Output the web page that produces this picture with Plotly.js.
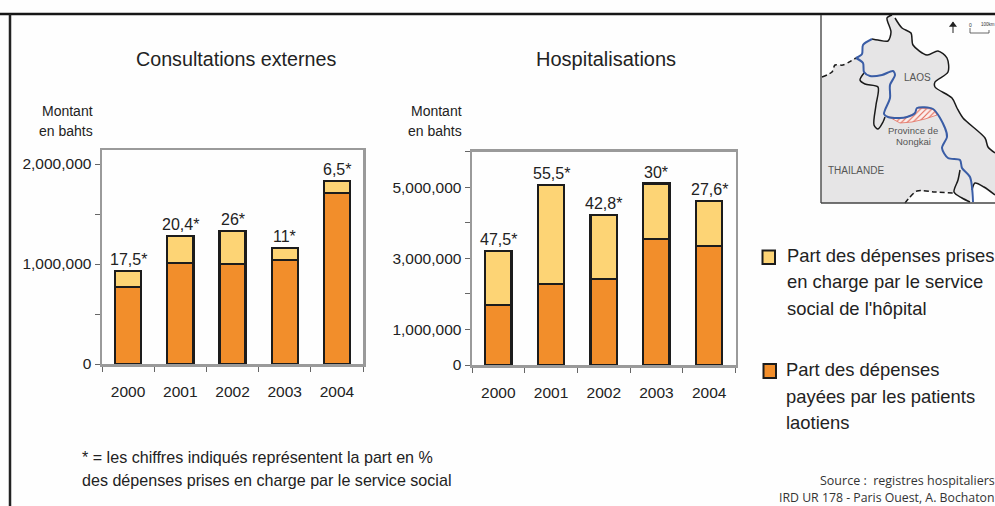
<!DOCTYPE html>
<html lang="fr">
<head>
<meta charset="utf-8">
<script src="https://cdn.plot.ly/plotly-3.0.1.min.js"></script>
<style>html,body{margin:0;padding:0;background:#fefefe;overflow:hidden}#c{width:995px;height:506px}</style>
</head>
<body>
<div id="c"></div>
<script>
// ---- data ----
var years = ['2000','2001','2002','2003','2004'];
var consultPatients = [773000,1010000,1000000,1040000,1710000];
var consultSocial   = [157000,270000,330000,120000,120000];
var consultLabels   = ['17,5*','20,4*','26*','11*','6,5*'];
var hospPatients = [1680000,2270000,2410000,3550000,3340000];
var hospSocial   = [1530000,2780000,1810000,1550000,1260000];
var hospLabels   = ['47,5*','55,5*','42,8*','30*','27,6*'];
var consultTickVals = [0,500000,1000000,1500000,2000000];
var consultTickText = ['0','','1,000,000','','2,000,000'];
var hospTickVals = [0,1000000,2000000,3000000,4000000,5000000,6000000];
var hospTickText = ['0','1,000,000','','3,000,000','','5,000,000',''];
var legendSocial = ["Part des dépenses prises","en charge par le service","social de l'hôpital"];
var legendPatients = ["Part des dépenses","payées par les patients","laotiens"];

// ---- decorative locator map (page pixel coordinates) ----
var landX = [821,823,832,835,843,856,862,863,872,878,888,891,887,892,895,902,911,913,927,938,947,948,935,935,952,957,963,985,988,995,995,975,972,970,954,917,905,821,821];
var landY = [77,77,72,65,65,58,54,45,39,40,41,32,18,15,18,28,33,45,55,51,58,72,82,87,98,108,118,138,147,153,195,183,186,203,192,191,203,203,77];
var borderNorthX = [872,878,888,891,887,892];
var borderNorthY = [39,40,41,32,18,15];
var borderEastX = [895,902,911,913,927,938,947,948,935,935,952,957,963,985,988,995];
var borderEastY = [18,28,33,45,55,51,58,72,82,87,98,108,118,138,147,153];
var borderPocketX = [864,860,865,878,876,874,878,883,885];
var borderPocketY = [73,80,84,87,105,125,129,122,117];
var borderSouthX = [960,958,954,962,970];
var borderSouthY = [170,180,192,198,202];
var borderSEX = [972,975,984,995];
var borderSEY = [190,183,187,195];
var dashWestX = [822,832,835,843,856];
var dashWestY = [77,72,65,65,58];
var dashSouthX = [905,909,917,935,954];
var dashSouthY = [203,198,191,192,193];
var riverNorthX = [856,862,863,872];
var riverNorthY = [58,54,45,39];
var riverMainX = [856,863,864,870,882,893,895,890,890,885,884,888,900,907,915,917,933,945,947,942,948,960,962,970,973];
var riverMainY = [58,63,72,76,75,71,75,85,98,110,114,117,118,117,113,108,109,128,137,148,158,160,168,177,202];
var provinceX = [889,900,907,915,917,933,937,925,912,900,889];
var provinceY = [117,118,117,113,108,109,115,119,122,123,117];
var northArrowX = [953,953];
var northArrowY = [22,33];
var scaleX = [970,970,989,989];
var scaleY = [28,33,33,30];

var ink = '#222222', barLine = '#1c1c1c', frame = '#9a9a9a', axisDark = '#666666';
var social = '#FDD475', patients = '#F28E2B';
var sans = 'Liberation Sans, Arial, sans-serif';

function sum(a,b){return a.map(function(v,i){return v+b[i];});}
function bar(y,color,xa,ya){return {type:'bar',x:years,y:y,xaxis:xa,yaxis:ya,marker:{color:color,line:{color:barLine,width:2.3}},hoverinfo:'skip',showlegend:false};}
function line(x,y,color,w,dash,spline){return {type:'scatter',mode:'lines',x:x,y:y,xaxis:'x3',yaxis:'y3',line:{color:color,width:w,dash:dash||'solid',shape:spline===false?'linear':'spline',smoothing:0.8},hoverinfo:'skip',showlegend:false,cliponaxis:true};}

var traces = [
  bar(consultPatients,patients,'x','y'),
  bar(consultSocial,social,'x','y'),
  bar(hospPatients,patients,'x2','y2'),
  bar(hospSocial,social,'x2','y2'),
  {type:'scatter',mode:'lines',x:landX,y:landY,xaxis:'x3',yaxis:'y3',fill:'toself',fillcolor:'#e6e5e6',line:{width:0,color:'rgba(0,0,0,0)'},hoverinfo:'skip',showlegend:false},
  {type:'scatter',mode:'lines',x:provinceX,y:provinceY,xaxis:'x3',yaxis:'y3',fill:'toself',fillcolor:'#ffffff',fillpattern:{shape:'/',fgcolor:'#e2604f',bgcolor:'#fbeeec',size:4,solidity:0.25},line:{width:0.7,color:'#e2604f'},hoverinfo:'skip',showlegend:false},
  line(borderNorthX,borderNorthY,'#1a1a1a',1.5),
  line(borderEastX,borderEastY,'#1a1a1a',1.5),
  line(borderPocketX,borderPocketY,'#1a1a1a',1.5),
  line(borderSouthX,borderSouthY,'#1a1a1a',1.5),
  line(borderSEX,borderSEY,'#1a1a1a',1.5),
  line(dashWestX,dashWestY,'#1a1a1a',1.5,'5px,3px'),
  line(dashSouthX,dashSouthY,'#1a1a1a',1.5,'5px,3px'),
  line(riverNorthX,riverNorthY,'#3a5da6',2),
  line(riverMainX,riverMainY,'#3a5da6',2),
  line(northArrowX,northArrowY,'#222222',1,'solid',false),
  {type:'scatter',mode:'markers',x:[953],y:[25],xaxis:'x3',yaxis:'y3',marker:{symbol:'triangle-up',size:7,color:'#222222'},hoverinfo:'skip',showlegend:false},
  line(scaleX,scaleY,'#444444',0.8,'solid',false)
];

function note(x,y,t,size,anchor,family,color){return {xref:'x3',yref:'y3',x:x,y:y,text:t,showarrow:false,xanchor:anchor||'left',yanchor:'middle',font:{family:family||sans,size:size,color:color||ink},borderpad:0,borderwidth:0};}
function barLabels(tot,txt,xr,yr){return txt.map(function(t,i){return {xref:xr,yref:yr,x:i,y:tot[i],text:t,showarrow:false,xanchor:'center',yanchor:'bottom',yshift:3,font:{family:sans,size:16,color:ink},borderpad:0,borderwidth:0};});}
var annotations = [
  note(235.5,59,'Consultations externes',19.7,'center'),
  note(605.5,59,'Hospitalisations',20,'center'),
  note(93,111,'Montant',14,'right'),
  note(93,131,'en bahts',14,'right'),
  note(462,111,'Montant',14,'right'),
  note(462,131,'en bahts',14,'right'),
  note(82,457,'* = les chiffres indiqués représentent la part en %',16.1),
  note(82,480,'des dépenses prises en charge par le service social',16.1),
  note(787,255,legendSocial[0],18.4),
  note(787,281,legendSocial[1],18.4),
  note(787,308,legendSocial[2],18.4),
  note(786,369,legendPatients[0],18.4),
  note(786,396,legendPatients[1],18.4),
  note(786,422,legendPatients[2],18.4),
  note(820,480.5,'Source :  registres hospitaliers',12.5,'left','Open Sans, sans-serif','#333333'),
  note(779,497.5,'IRD UR 178 - Paris Ouest, A. Bochaton',12.3,'left','Open Sans, sans-serif','#333333'),
  note(917,77,'LAOS',10,'center',sans,'#555555'),
  note(913,130,'Province de',9.5,'center',sans,'#555555'),
  note(913,141,'Nongkai',9.5,'center',sans,'#555555'),
  note(856,170,'THAILANDE',10,'center',sans,'#555555'),
  note(970,24.5,'0',5,'center',sans,'#333333'),
  note(980.5,24.5,'100km',4.5,'left',sans,'#333333')
].concat(
  barLabels(sum(consultPatients,consultSocial),consultLabels,'x','y'),
  barLabels(sum(hospPatients,hospSocial),hospLabels,'x2','y2')
);

var shapes = [
  {type:'line',xref:'x3',yref:'y3',x0:0,x1:995,y0:14,y1:14,line:{color:'#161616',width:2.5}},
  {type:'line',xref:'x3',yref:'y3',x0:10,x1:10,y0:14,y1:506,line:{color:'#222222',width:2.5}},
  {type:'line',xref:'x3',yref:'y3',x0:821,x1:821,y0:15,y1:203,line:{color:'#555555',width:1.5}},
  {type:'line',xref:'x3',yref:'y3',x0:821,x1:995,y0:203,y1:203,line:{color:'#444444',width:1.5}},
  {type:'rect',xref:'x3',yref:'y3',x0:762.5,x1:775,y0:250.5,y1:264,fillcolor:social,line:{color:'#1c1c1c',width:2}},
  {type:'rect',xref:'x3',yref:'y3',x0:763.5,x1:776,y0:364,y1:378,fillcolor:patients,line:{color:'#1c1c1c',width:2}}
];

function xAxis(a,b){return {type:'category',range:[-0.5,4.5],tickangle:0,domain:[a/995,b/995],showline:true,linecolor:frame,linewidth:2.5,mirror:true,showgrid:false,zeroline:false,ticks:'outside',ticklen:5,tickcolor:axisDark,tickwidth:1,tickson:'boundaries',ticklabelstandoff:12,tickfont:{family:sans,size:15.5,color:ink},fixedrange:true};}
function yAxis(top,bot,range,vals,txt,anchor){return {anchor:anchor,domain:[1-bot/506,1-top/506],range:range,tickmode:'array',tickvals:vals,ticktext:txt,showline:true,linecolor:frame,linewidth:2.5,mirror:true,showgrid:false,zeroline:false,ticks:'outside',ticklen:5,tickcolor:axisDark,tickwidth:1,tickfont:{family:sans,size:15.5,color:ink},fixedrange:true};}

var xa = xAxis(102,363); xa.anchor='y';
var xb = xAxis(472,735.5); xb.anchor='y2';

var layout = {
  width:995,height:506,autosize:false,
  margin:{l:0,r:0,t:0,b:0,pad:0},
  paper_bgcolor:'#fefefe',plot_bgcolor:'rgba(0,0,0,0)',
  barmode:'stack',bargap:0.5,showlegend:false,
  xaxis:xa,
  yaxis:yAxis(150,364,[0,2140000],consultTickVals,consultTickText,'x'),
  xaxis2:xb,
  yaxis2:yAxis(151.5,365,[0,6000000],hospTickVals,hospTickText,'x2'),
  xaxis3:{domain:[0,1],range:[0,995],visible:false,anchor:'y3',fixedrange:true},
  yaxis3:{domain:[0,1],range:[506,0],visible:false,anchor:'x3',fixedrange:true},
  annotations:annotations,
  shapes:shapes
};
Plotly.newPlot('c',traces,layout,{displayModeBar:false,staticPlot:true});
</script>
</body>
</html>
